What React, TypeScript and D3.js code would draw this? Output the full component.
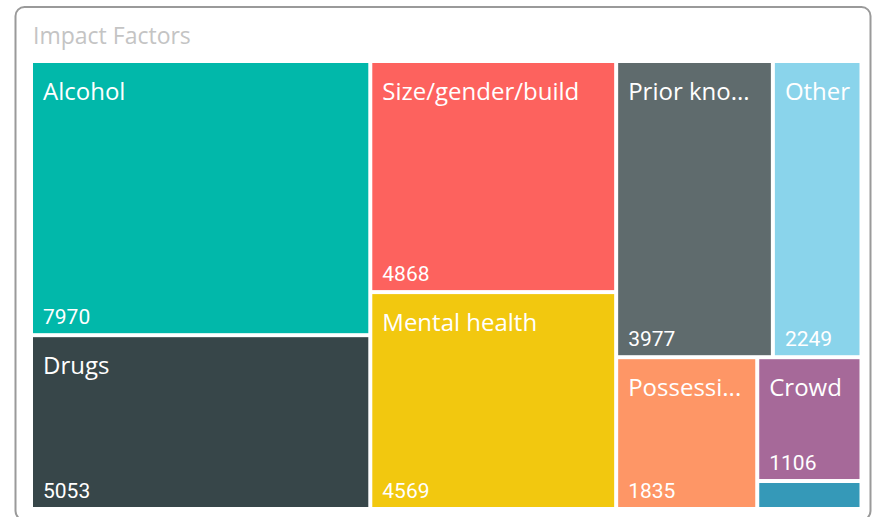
import React, { useEffect, useRef } from 'react';
import * as d3 from 'd3';

// treemap data
const categories = [
  'Alcohol',
  'Drugs',
  'Size/gender/build',
  'Mental health',
  'Prior knowledge',
  'Other',
  'Possession of items',
  'Crowd',
  'Weapons',
];
const counts = [7970, 5053, 4868, 4569, 3977, 2249, 1835, 1106, 250];
const colors = [
  '#01B8AA',
  '#374649',
  '#FD625E',
  '#F2C80F',
  '#5F6B6D',
  '#8AD4EB',
  '#FE9666',
  '#A66999',
  '#3599B8',
];
const title = 'Impact Factors';

const W = 875;
const H = 517;

const App = () => {
  const ref = useRef<SVGSVGElement | null>(null);

  useEffect(() => {
    if (!ref.current) return;
    const svg = d3.select(ref.current);
    svg.selectAll('*').remove();

    // card
    svg
      .append('rect')
      .attr('x', 15.5)
      .attr('y', 7)
      .attr('width', 855)
      .attr('height', 513)
      .attr('rx', 9)
      .attr('fill', '#fff')
      .attr('stroke', '#9a9a9a')
      .attr('stroke-width', 2);

    svg
      .append('text')
      .attr('x', 33)
      .attr('y', 44)
      .attr('font-family', '"Open Sans", sans-serif')
      .attr('font-size', 23)
      .attr('fill', '#c4c4c4')
      .text(title);

    const margin = { left: 33, top: 63 };
    const width = 826.5;
    const height = 444;

    const data = categories.map((name, i) => ({ name, value: counts[i], color: colors[i] }));
    const root = d3
      .hierarchy<any>({ children: data })
      .sum((d) => d.value || 0)
      .sort((a, b) => (b.value || 0) - (a.value || 0));

    d3.treemap<any>().size([width, height]).paddingInner(4).tile(d3.treemapSquarify)(root);

    const g = svg.append('g').attr('transform', `translate(${margin.left},${margin.top})`);

    const cells = g
      .selectAll('g.cell')
      .data(root.leaves() as d3.HierarchyRectangularNode<any>[])
      .join('g')
      .attr('class', 'cell')
      .attr('transform', (d) => `translate(${d.x0},${d.y0})`);

    cells
      .append('rect')
      .attr('width', (d) => d.x1 - d.x0)
      .attr('height', (d) => d.y1 - d.y0)
      .attr('fill', (d) => d.data.color);

    // only label cells tall enough
    const labelled = cells.filter((d) => d.y1 - d.y0 > 60);

    labelled
      .append('text')
      .attr('x', 10)
      .attr('y', 37)
      .attr('font-family', '"Open Sans", sans-serif')
      .attr('font-size', 24)
      .attr('fill', '#fff')
      .each(function (d) {
        const t = d3.select(this);
        const w = d.x1 - d.x0;
        let label = d.data.name;
        t.text(label);
        // full name may run close to the edge, truncated ones keep padding
        if ((this as SVGTextElement).getComputedTextLength() <= w - 8) return;
        while (label.length > 1) {
          label = label.slice(0, -1);
          t.text(label.trimEnd() + '...');
          if ((this as SVGTextElement).getComputedTextLength() <= w - 20) break;
        }
      });

    labelled
      .append('text')
      .attr('x', 10)
      .attr('y', (d) => d.y1 - d.y0 - 9)
      .attr('font-family', 'Roboto, sans-serif')
      .attr('font-size', 21)
      .attr('fill', '#fff')
      .text((d) => d.data.value);
  }, []);

  return (
    <svg
      ref={ref}
      width={W}
      height={H}
      style={{ position: 'absolute', left: 0, top: 0, display: 'block', background: '#fff' }}
    />
  );
};

export default App;
